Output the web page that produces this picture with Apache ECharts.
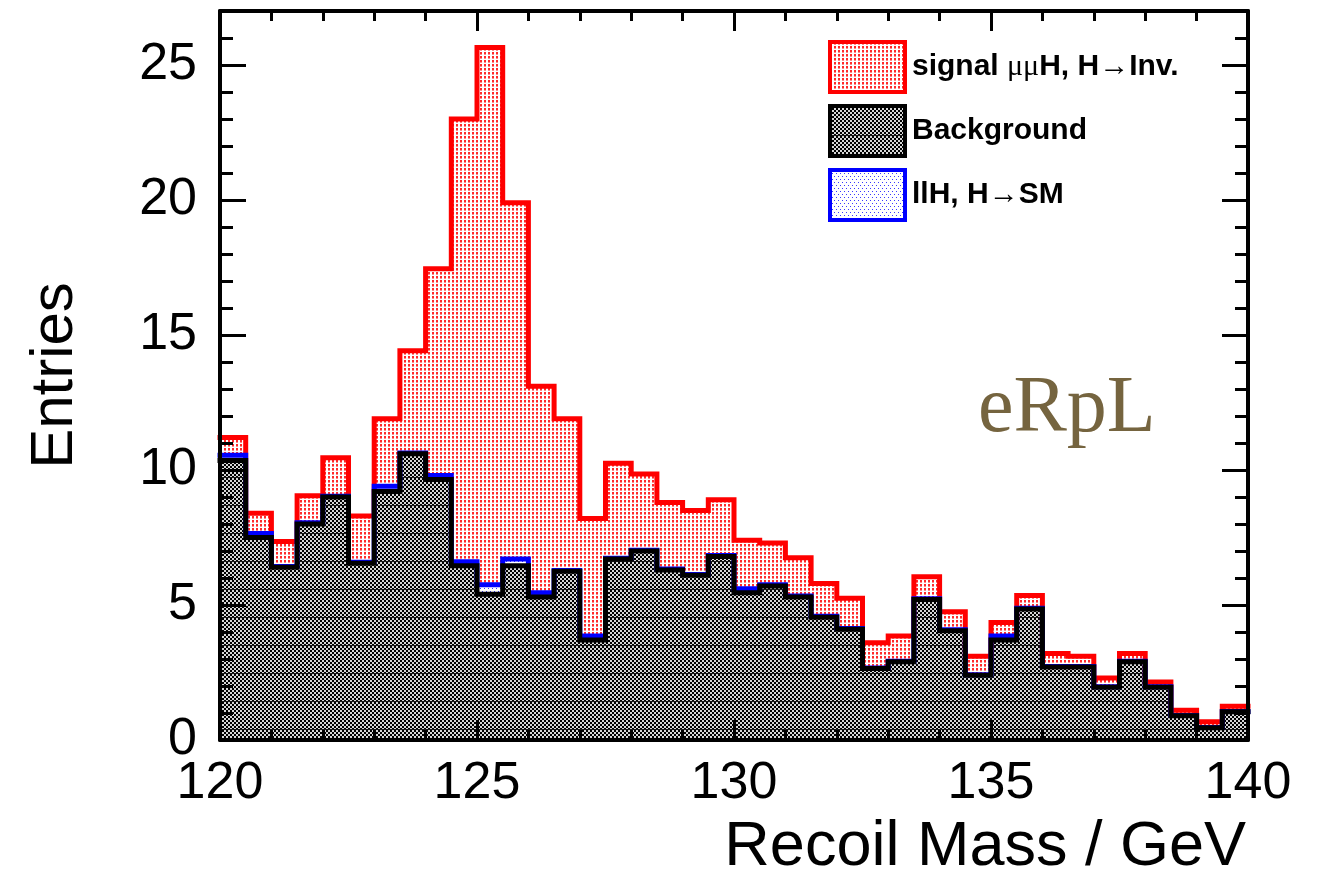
<!DOCTYPE html>
<html lang="en">

<head>
  <meta charset="UTF-8" />
  <title>Recoil Mass</title>
  <script src="https://cdn.jsdelivr.net/npm/echarts@6/dist/echarts.min.js"></script>
  <style>
    body {
      margin: 0;
      background: #fff;
    }

    #main {
      width: 1317px;
      height: 879px;
    }
  </style>
</head>

<body>
  <div id="main"></div>

  <script>
    // histogram range: 40 bins of 0.5 GeV from 120 to 140
    const massMin = 120;
    const massMax = 140;
    const binWidth = 0.5;

    // bin contents (stacked: background, llH SM, signal)
    const background = [
      10.35, 7.5, 6.4, 8.0, 9.0, 6.55, 9.2, 10.6, 9.65, 6.45,
      5.4, 6.45, 5.3, 6.25, 3.7, 6.7, 7.0, 6.3, 6.1, 6.8,
      5.45, 5.7, 5.3, 4.55, 4.1, 2.65, 2.9, 5.2, 4.05, 2.4,
      3.7, 4.85, 2.7, 2.7, 1.95, 2.9, 1.95, 0.9, 0.45, 1.05
    ];
    const llhSM = [
      0.2, 0.15, 0.03, 0.05, 0.03, 0.03, 0.2, 0.03, 0.15, 0.15,
      0.35, 0.25, 0.15, 0.03, 0.15, 0.03, 0.03, 0.03, 0.03, 0.03,
      0.15, 0.05, 0.03, 0.03, 0.03, 0.02, 0.02, 0.03, 0.03, 0.02,
      0.15, 0.03, 0.02, 0.02, 0.02, 0.02, 0.02, 0.01, 0.01, 0.01
    ];
    const signal = [
      0.65, 0.75, 0.92, 1.0, 1.42, 1.72, 2.5, 3.79, 7.65, 16.4,
      19.9, 13.2, 7.65, 5.62, 4.35, 3.52, 2.82, 2.47, 2.37, 2.07,
      1.8, 1.55, 1.42, 1.22, 1.12, 0.93, 0.93, 0.82, 0.67, 0.68,
      0.5, 0.47, 0.48, 0.38, 0.33, 0.28, 0.18, 0.19, 0.22, 0.19
    ];

    const seriesNames = ["signal μμH, H→Inv.", "Background", "llH, H→SM"];
    const xName = "Recoil Mass / GeV";
    const yName = "Entries";
    const tagText = "eRpL";

    const sans = '"Liberation Sans", Arial, Helvetica, sans-serif';
    const serif = '"Liberation Serif", "Times New Roman", serif';

    // cumulative stack heights
    const bgTop = background.slice();
    const smTop = background.map((v, i) => v + llhSM[i]);
    const totalTop = smTop.map((v, i) => v + signal[i]);

    // step points at bin low edges, plus the closing edge
    function histPoints(values) {
      const pts = values.map((v, i) => [massMin + i * binWidth, v]);
      pts.push([massMax, values[values.length - 1]]);
      return pts;
    }

    function makePattern(w, h, draw) {
      const c = document.createElement("canvas");
      c.width = w;
      c.height = h;
      const ctx = c.getContext("2d");
      ctx.fillStyle = "#fff";
      ctx.fillRect(0, 0, w, h);
      draw(ctx);
      return { image: c, repeat: "repeat" };
    }

    const redFill = makePattern(4, 4, (ctx) => {
      ctx.fillStyle = "#ff2a2a";
      ctx.fillRect(0, 0, 2, 2);
      ctx.fillStyle = "#ff8a8a";
      ctx.fillRect(0, 2, 2, 1);
    });

    const blackFill = makePattern(4, 28, (ctx) => {
      for (let y = 0; y < 28; y += 2) {
        for (let x = 0; x < 4; x += 2) {
          ctx.fillStyle = ((x + y) / 2) % 2 === 0 ? "#000" : "#d6d6d6";
          ctx.fillRect(x, y, 2, 2);
        }
      }
      ctx.fillStyle = "#1a1a1a";
      ctx.fillRect(0, 1, 4, 1);
    });

    const blueFill = makePattern(4, 6, (ctx) => {
      ctx.fillStyle = "#3a3aff";
      ctx.fillRect(0, 0, 1, 1);
      ctx.fillRect(2, 3, 1, 1);
    });

    const chart = echarts.init(document.getElementById("main"));

    const frameLine = { show: true, onZero: false, lineStyle: { color: "#000", width: 4 } };

    function xAxisDef(pos) {
      return {
        type: "value",
        position: pos,
        min: massMin,
        max: massMax,
        interval: 5,
        z: 10,
        axisLine: frameLine,
        axisTick: { show: true, inside: true, length: 20, lineStyle: { color: "#000", width: 3 } },
        minorTick: { show: true, splitNumber: 5, length: 10, lineStyle: { color: "#000", width: 3 } },
        splitLine: { show: false },
        axisLabel: {
          show: pos === "bottom",
          margin: 18,
          fontSize: 52,
          fontFamily: sans,
          color: "#000",
        },
      };
    }

    function yAxisDef(pos, step, len, withLine, withLabel) {
      return {
        type: "value",
        position: pos,
        min: 0,
        max: 27,
        interval: step,
        z: 10,
        axisLine: withLine ? frameLine : { show: false },
        axisTick: { show: true, inside: true, length: len, lineStyle: { color: "#000", width: 3 } },
        splitLine: { show: false },
        axisLabel: {
          show: withLabel,
          showMaxLabel: false,
          margin: 23,
          fontSize: 52,
          fontFamily: sans,
          color: "#000",
        },
      };
    }

    const xBottom = xAxisDef("bottom");
    xBottom.name = xName;
    xBottom.nameLocation = "end";
    xBottom.nameGap = -2;
    xBottom.nameTextStyle = {
      fontSize: 63,
      fontFamily: sans,
      color: "#000",
      align: "right",
      verticalAlign: "top",
      padding: [76, 0, 0, 0],
    };

    const yLeft = yAxisDef("left", 5, 26, true, true);
    yLeft.name = yName;
    yLeft.nameLocation = "middle";
    yLeft.nameGap = 135;
    yLeft.nameTextStyle = { fontSize: 60, fontFamily: sans, color: "#000" };

    function histSeries(name, values, lineColor, fill) {
      return {
        name: name,
        type: "line",
        step: "end",
        data: histPoints(values),
        symbol: "none",
        showSymbol: false,
        clip: true,
        lineStyle: { color: lineColor, width: 5, join: "miter", cap: "square" },
        itemStyle: { color: lineColor },
        areaStyle: { color: fill, opacity: 1 },
        emphasis: { disabled: true },
      };
    }

    chart.setOption({
      animation: false,
      grid: { left: 220, right: 69, top: 11, bottom: 139 },
      legend: {
        orient: "vertical",
        left: 823,
        top: 35,
        icon: "rect",
        itemWidth: 75,
        itemHeight: 50,
        itemGap: 10,
        selectedMode: false,
        data: [
          { name: seriesNames[0], itemStyle: { color: redFill, borderColor: "#ff0000", borderWidth: 4 } },
          { name: seriesNames[1], itemStyle: { color: blackFill, borderColor: "#000", borderWidth: 4 } },
          { name: seriesNames[2], itemStyle: { color: blueFill, borderColor: "#0000ff", borderWidth: 4 } },
        ],
        formatter: (name) => name.replace("μμ", "{m|μμ}"),
        textStyle: {
          fontFamily: sans,
          fontSize: 30,
          fontWeight: "bold",
          color: "#000",
          padding: [0, 0, 0, 2],
          rich: {
            m: { fontFamily: serif, fontSize: 30, fontWeight: "normal", color: "#000" },
          },
        },
      },
      xAxis: [xBottom, xAxisDef("top")],
      yAxis: [
        yLeft,
        yAxisDef("left", 1, 13, false, false),
        yAxisDef("right", 5, 26, true, false),
        yAxisDef("right", 1, 13, false, false),
      ],
      graphic: [
        {
          type: "text",
          left: 978,
          top: 370,
          z: 20,
          style: { text: tagText, font: '80px ' + serif, fill: "#75643f" },
        },
      ],
      series: [
        histSeries(seriesNames[0], totalTop, "#ff0000", redFill),
        histSeries(seriesNames[2], smTop, "#0000ff", blueFill),
        histSeries(seriesNames[1], bgTop, "#000000", blackFill),
      ],
    });
  </script>
</body>

</html>
